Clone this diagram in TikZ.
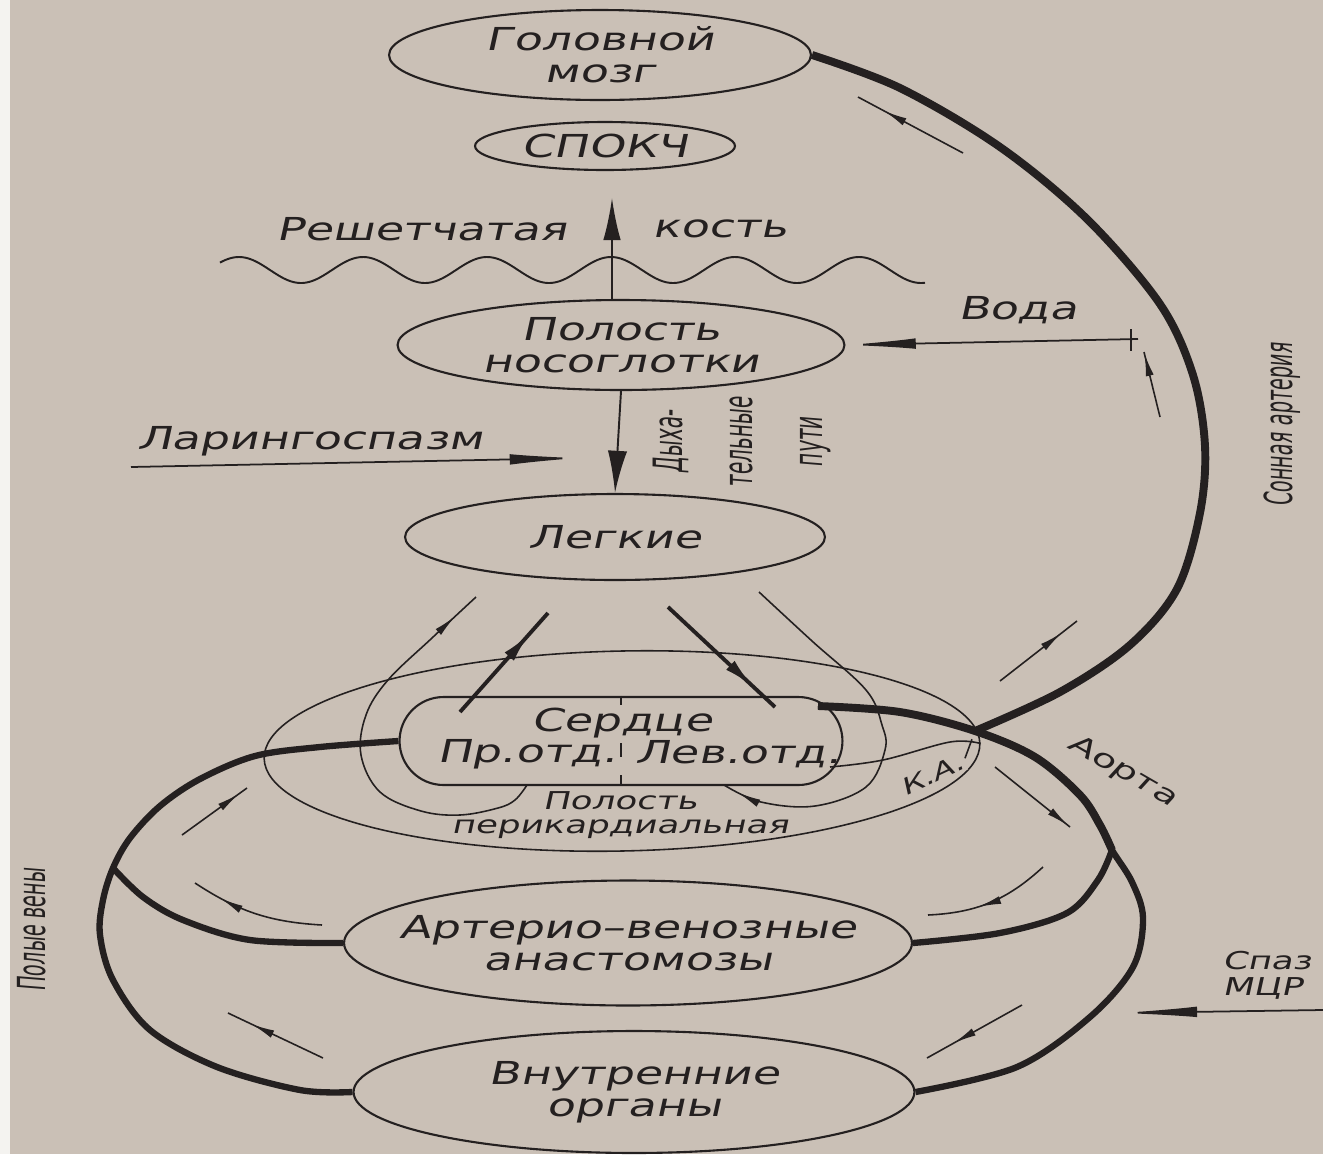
\documentclass[tikz,border=0pt]{standalone}
\usepackage{fontspec}
\usetikzlibrary{shapes.geometric,arrows.meta,decorations.markings}

\newfontfamily\gostfont{DejaVu Sans}[FakeSlant=0.22,FakeStretch=1.45]
\newfontfamily\narrowfont{DejaVu Sans}[FakeSlant=0.08,FakeStretch=0.5]

\definecolor{paper}{RGB}{202,192,182}
\definecolor{ink}{RGB}{36,32,32}

\tikzset{%
  organ/.style={
    ellipse,
    draw,
    line width=1.2pt,
    inner sep=0pt
  },
  heartbox/.style={
    rectangle,
    draw,
    line width=1.2pt,
    minimum width=8.86cm,
    minimum height=1.76cm,
    rounded corners=0.88cm
  },
  caption/.style={
    font=\gostfont\fontsize{18}{18}\selectfont,
    align=center,
    inner sep=1pt
  },
  smallcap/.style={
    font=\gostfont\fontsize{15}{15}\selectfont,
    align=center,
    inner sep=1pt
  },
  sidecap/.style={
    font=\narrowfont\fontsize{22}{26}\selectfont,
    align=center,
    rotate=90
  },
  vessel/.style={line width=4.5pt},
  branch/.style={line width=3.6pt},
  thinline/.style={line width=0.9pt},
  uparrow/.style={line width=1.1pt, -{Latex[length=24pt,width=10pt]}},
  longarrow/.style={line width=1pt, -{Latex[length=40pt,width=6pt]}},
  flow/.style={postaction={decorate},
    decoration={markings, mark=at position #1 with {\arrow{Latex[length=13pt,width=4.5pt]}}}},
  bigflow/.style={postaction={decorate},
    decoration={markings, mark=at position #1 with {\arrow{Latex[length=18pt,width=7pt]}}}},
}

\begin{document}
\begin{tikzpicture}[x=0.02cm, y=-0.02cm, color=ink]
\fill[paper] (0,0) rectangle (1323,1154);
\fill[white!80!paper] (0,0) rectangle (10,1154);
\useasboundingbox (0,0) rectangle (1323,1154);

% organs
\node [organ, minimum width=8.44cm, minimum height=1.8cm,
  label={[caption]center:Головной\\мозг}] (brain) at (600,55) {};
\node [organ, minimum width=5.2cm, minimum height=0.96cm,
  label={[caption]center:СПОКЧ}] (spokch) at (605,146) {};
\node [organ, minimum width=8.94cm, minimum height=1.8cm,
  label={[caption]center:Полость\\носоглотки}] (nose) at (621,345) {};
\node [organ, minimum width=8.4cm, minimum height=1.72cm,
  label={[caption]center:Легкие}] (lungs) at (615,537) {};
\node [organ, line width=0.9pt, minimum width=14.32cm, minimum height=4cm,
  rotate=1.2] (pericard) at (622,751) {};
\node [heartbox] (heart) at (621,741) {};
\node [organ, minimum width=11.36cm, minimum height=2.5cm,
  label={[caption]center:Артерио–венозные\\анастомозы}] (shunts) at (628,943) {};
\node [organ, minimum width=11.22cm, minimum height=2.44cm,
  label={[caption]center:Внутренние\\органы}] (organs) at (634,1092) {};

% heart inside
\node [caption] (heartTitle) at (622,723) {Сердце};
\node [caption] (rightPart) at (527,754) {Пр.отд.};
\node [caption] (leftPart) at (738,754) {Лев.отд.};
\draw [thinline, dash pattern=on 5pt off 22pt on 8pt off 10pt on 5pt]
  (heart.north) -- (heart.south);
\node [smallcap, font=\gostfont\fontsize{14}{14}\selectfont] (pericardText)
  at (620,815) {Полость\\перикардиальная};

% bone and airways
\draw [line width=1.1pt] plot [domain=220:925, samples=300, smooth]
  (\x, {270-13*cos(2.90323*(\x-611))});
\node [caption] (boneLeft) at (422,229) {Решетчатая};
\node [caption] (boneRight) at (720,229) {кость};
\coordinate (boneTip) at (612,198);
\draw [uparrow] (nose.north -| boneTip) -- (boneTip);
\draw [uparrow, -{Latex[length=24pt,width=11pt]}] (nose.south) -- (lungs.north);
\node [sidecap, font=\narrowfont\fontsize{23}{40}\selectfont] (airway) at (742,442)
  {Дыха-\\тельные\\пути};

\coordinate (laryStart) at (131,467);
\coordinate (laryEnd) at (580,458);
\draw [longarrow] (laryStart) -- (laryEnd);
\node [caption] (larynx) at (310,441) {Ларингоспазм};

\coordinate (waterStart) at (1138,339);
\draw [longarrow] (waterStart) -- (nose.east);
\draw [thinline] (1131,329) -- (1131,351);
\node [caption] (water) at (1018,310) {Вода};

% carotid artery and aorta
\coordinate (arch) at (975,731);
\coordinate (aoRoot) at (818,706);
\coordinate (split) at (1112,850);
\draw [vessel] plot [smooth, tension=0.55] coordinates {(brain.east) (900,88)
  (1000,147) (1087,219) (1160,304) (1193,375) (1205,446) (1200,513) (1177,589)
  (1130,645) (1060,692) (arch)};
\draw [branch] plot [smooth, tension=0.55] coordinates {(aoRoot) (900,712) (arch)
  (1035,757) (1080,795) (1100,825) (split) (1132,882) (1143,918) (1133,967)
  (1090,1017) (1017,1067) (organs.east)};
\draw [vessel] plot [smooth, tension=0.55] coordinates {(aoRoot) (900,712) (arch)
  (1035,757) (1080,795) (1100,825) (split)};
\draw [branch] plot [smooth, tension=0.55] coordinates {(split) (1098,880)
  (1067,913) (1000,933) (shunts.east)};
\node [smallcap, rotate=-30] (aortaText) at (1122,771) {Аорта};
\node [sidecap] (carotidText) at (1282,425) {Сонная артерия};

% coronary artery
\coordinate (kaFoot) at (830,767);
\draw [thinline] plot [smooth, tension=0.6] coordinates {(kaFoot) (883,760)
  (950,742) (pericard.east)};
\node [smallcap, font=\gostfont\fontsize{13}{13}\selectfont, rotate=25,
  fill=paper] (ka) at (932,775) {К.А.};
\draw [thinline, shorten <=5pt, shorten >=1pt] (arch) -- (ka.east);

% venae cavae
\coordinate (vcFork) at (113,868);
\draw [branch] plot [smooth, tension=0.55] coordinates {(heart.west) (320,747)
  (255,756) (200,779) (160,806) (130,838) (vcFork) (103,900) (100,935)
  (113,980) (150,1030) (217,1067) (300,1090) (organs.west)};
\draw [branch] plot [smooth, tension=0.55] coordinates {(vcFork) (143,897)
  (183,920) (250,940) (shunts.west)};
\node [sidecap] (cavaText) at (32,930) {Полые вены};

% spasm
\coordinate (spasmStart) at (1323,1010);
\coordinate (spasmEnd) at (1118,1013);
\draw [longarrow, -{Latex[length=45pt,width=6pt]}] (spasmStart) -- (spasmEnd);
\node [caption, font=\gostfont\fontsize{14}{15}\selectfont, align=left,
  anchor=west, inner sep=0pt] (spasm) at (1222,975) {Спаз\\МЦР};

% pulmonary loops
\coordinate (rvLoop) at (527,785);
\coordinate (lungIn) at (476,597);
\coordinate (lungOut) at (759,592);
\coordinate (lvLoop) at (724,785);
\draw [thinline, flow=0.93] plot [smooth, tension=0.6] coordinates {(rvLoop)
  (515,800) (498,808) (460,815) (421,811) (380,792) (361,755) (366,715)
  (388,680) (432,638) (lungIn)};
\draw [thinline, flow=0.96] plot [smooth, tension=0.6] coordinates {(lungOut)
  (812,641) (866,690) (882,725) (885,750) (866,787) (815,806) (761,802)
  (lvLoop)};
\coordinate (rvOut) at (460,712);
\coordinate (rvTop) at (548,613);
\coordinate (lvTop) at (668,607);
\coordinate (lvIn) at (775,707);
\draw [line width=2.2pt, bigflow=0.8] (rvOut) -- (rvTop);
\draw [line width=2.2pt, bigflow=0.8] (lvTop) -- (lvIn);

% flow marks along the vessels
\draw [thinline, flow=0.75] (963,153) -- (858,97);
\draw [thinline, flow=0.98] (1160,417) -- (1144,352);
\draw [thinline, flow=0.8] (1000,681) -- (1077,621);
\draw [thinline, flow=0.98] (995,767) -- (1070,827);
\draw [thinline, flow=0.6] (1043,867) to [bend left=20] (928,915);
\draw [thinline, flow=0.72] (1022,1005) -- (927,1058);
\draw [thinline, flow=0.75] (323,1058) -- (228,1013);
\draw [thinline, flow=0.78] (322,925) to [bend left=15] (195,883);
\draw [thinline, flow=0.88] (182,835) -- (247,788);

\end{tikzpicture}
\end{document}
